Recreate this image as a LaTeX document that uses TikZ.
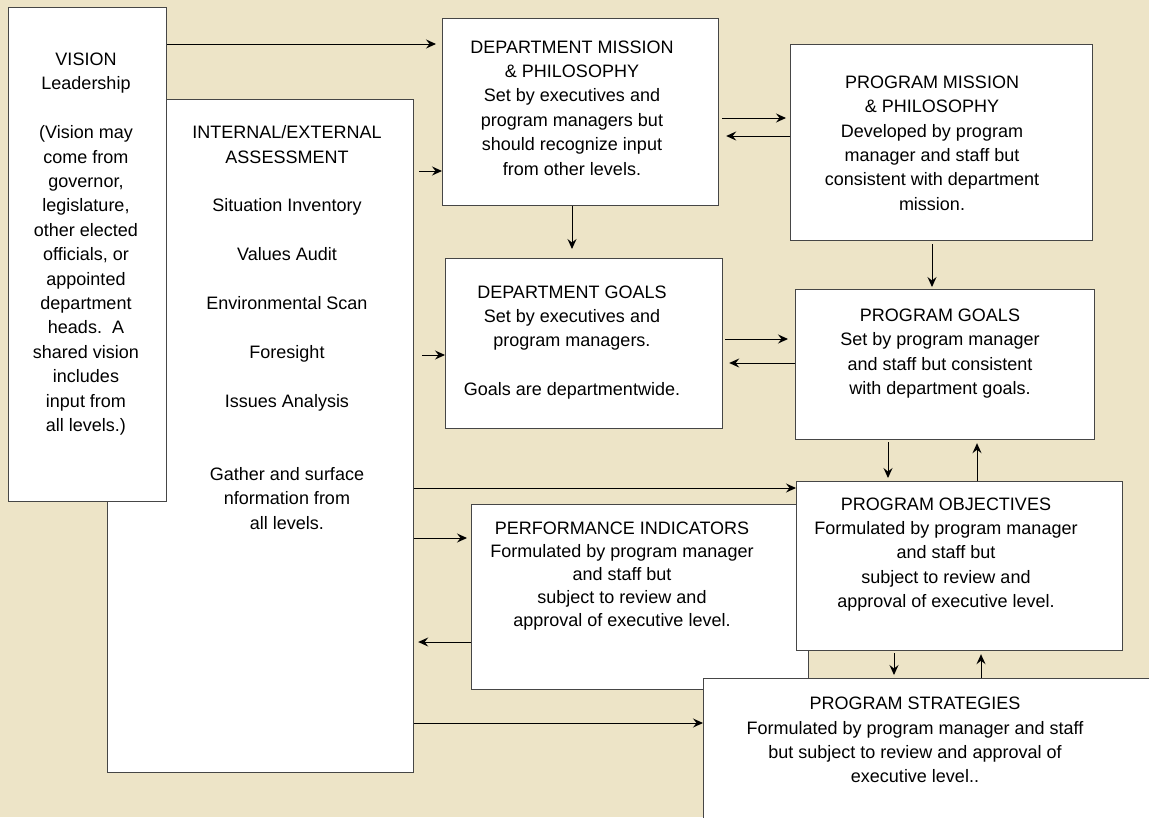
\documentclass[tikz,border=0pt]{standalone}
\usepackage{fontspec}
\setmainfont{Liberation Sans}
\usetikzlibrary{arrows.meta}
\definecolor{bg}{RGB}{237,228,199}
\definecolor{edge}{RGB}{70,70,70}
\begin{document}
\begin{tikzpicture}[x=1pt,y=-1pt,
  box/.style={draw=edge, line width=1.2pt, fill=white, rectangle, inner sep=0pt, anchor=north west},
  txt/.style={align=center, inner sep=0pt, font=\fontsize{18}{24.4}\selectfont},
  arr/.style={-{Stealth[length=10pt,width=9pt,inset=3.5pt]}, line width=1pt, black}]
\useasboundingbox (0,0) rectangle (1149,817);
\clip (0,0) rectangle (1149,817);
\fill[bg] (0,0) rectangle (1149,817);

% boxes
\node[box, minimum width=306pt, minimum height=673pt] (ass) at (107,99) {};
\node[txt] (ass-t) at (287,327.5) {INTERNAL/EXTERNAL\\ASSESSMENT\\[24.4pt]Situation Inventory\\[24.4pt]Values Audit\\[24.4pt]Environmental Scan\\[24.4pt]Foresight\\[24.4pt]Issues Analysis\\[48.8pt]Gather and surface\\nformation from\\all levels.};

\node[box, minimum width=158pt, minimum height=494pt] (vision) at (8,7) {};
\node[txt] (vision-t) at (86,244) {VISION\\Leadership\\[24.4pt](Vision may\\come from\\governor,\\legislature,\\other elected\\officials, or\\appointed\\department\\heads.\ \ A\\shared vision\\includes\\input from\\all levels.)};

\node[box, minimum width=276pt, minimum height=187pt] (dm) at (442,18) {};
\node[txt] (dm-t) at (572,108) {DEPARTMENT MISSION\\\& PHILOSOPHY\\Set by executives and\\program managers but\\should recognize input\\from other levels.};

\node[box, minimum width=302pt, minimum height=196pt] (pm) at (790,44) {};
\node[txt] (pm-t) at (932,143) {PROGRAM MISSION\\\& PHILOSOPHY\\Developed by program\\manager and staff but\\consistent with department\\mission.};

\node[box, minimum width=277pt, minimum height=170pt] (dg) at (445,258) {};
\node[txt] (dg-t) at (572,342.5) {DEPARTMENT GOALS\\Set by executives and\\program managers.\\[24.4pt]Goals are departmentwide.};

\node[box, minimum width=299pt, minimum height=150pt] (pg) at (795,289) {};
\node[txt] (pg-t) at (940,353.5) {PROGRAM GOALS\\Set by program manager\\and staff but consistent\\with department goals.};

\node[box, minimum width=337pt, minimum height=185pt] (perf) at (471,504) {};
\node[txt, font=\fontsize{18}{23}\selectfont] (perf-t) at (622,576) {PERFORMANCE INDICATORS\\Formulated by program manager\\and staff but\\subject to review and\\approval of executive level.};

\node[box, minimum width=326pt, minimum height=169pt] (obj) at (796,481) {};
\node[txt] (obj-t) at (946,554.5) {PROGRAM OBJECTIVES\\Formulated by program manager\\and staff but\\subject to review and\\approval of executive level.};

\node[box, minimum width=467pt, minimum height=162pt] (strat) at (703,678) {};
\node[txt] (strat-t) at (915,740) {PROGRAM STRATEGIES\\Formulated by program manager and staff\\but subject to review and approval of\\executive level..};

% connectors
\draw[arr, shorten >=6pt] (vision.east |- 0,44) -- (dm.west |- 0,44);
\draw[arr, shorten <=5pt] (ass.east |- 0,171) -- (dm.west |- 0,171);
\draw[arr, shorten <=8pt] (ass.east |- 0,355) -- (dg.west |- 0,355);
\draw[arr] (ass.east |- 0,488) -- (obj.west |- 0,488);
\draw[arr, shorten >=4pt] (ass.east |- 0,538) -- (perf.west |- 0,538);
\draw[arr, shorten >=4pt] (perf.west |- 0,642) -- (ass.east |- 0,642);
\draw[arr] (ass.east |- 0,723) -- (strat.west |- 0,723);

\draw[arr, shorten <=3pt, shorten >=4pt] (dm.east |- 0,118) -- (pm.west |- 0,118);
\draw[arr, shorten >=7pt] (pm.west |- 0,136) -- (dm.east |- 0,136);
\draw[arr, shorten <=2pt, shorten >=7pt] (dg.east |- 0,339) -- (pg.west |- 0,339);
\draw[arr, shorten >=6pt] (pg.west |- 0,363) -- (dg.east |- 0,363);

\draw[arr, shorten >=9pt] (572,0 |- dm.south) -- (572,0 |- dg.north);
\draw[arr, shorten <=3pt, shorten >=2pt] (932,0 |- pm.south) -- (932,0 |- pg.north);
\draw[arr, shorten <=2pt, shorten >=3pt] (888,0 |- pg.south) -- (888,0 |- obj.north);
\draw[arr, shorten >=3pt] (977,0 |- obj.north) -- (977,0 |- pg.south);
\draw[arr, shorten <=2pt, shorten >=3pt] (894,0 |- obj.south) -- (894,0 |- strat.north);
\draw[arr, shorten >=3pt] (981,0 |- strat.north) -- (981,0 |- obj.south);
\end{tikzpicture}
\end{document}
